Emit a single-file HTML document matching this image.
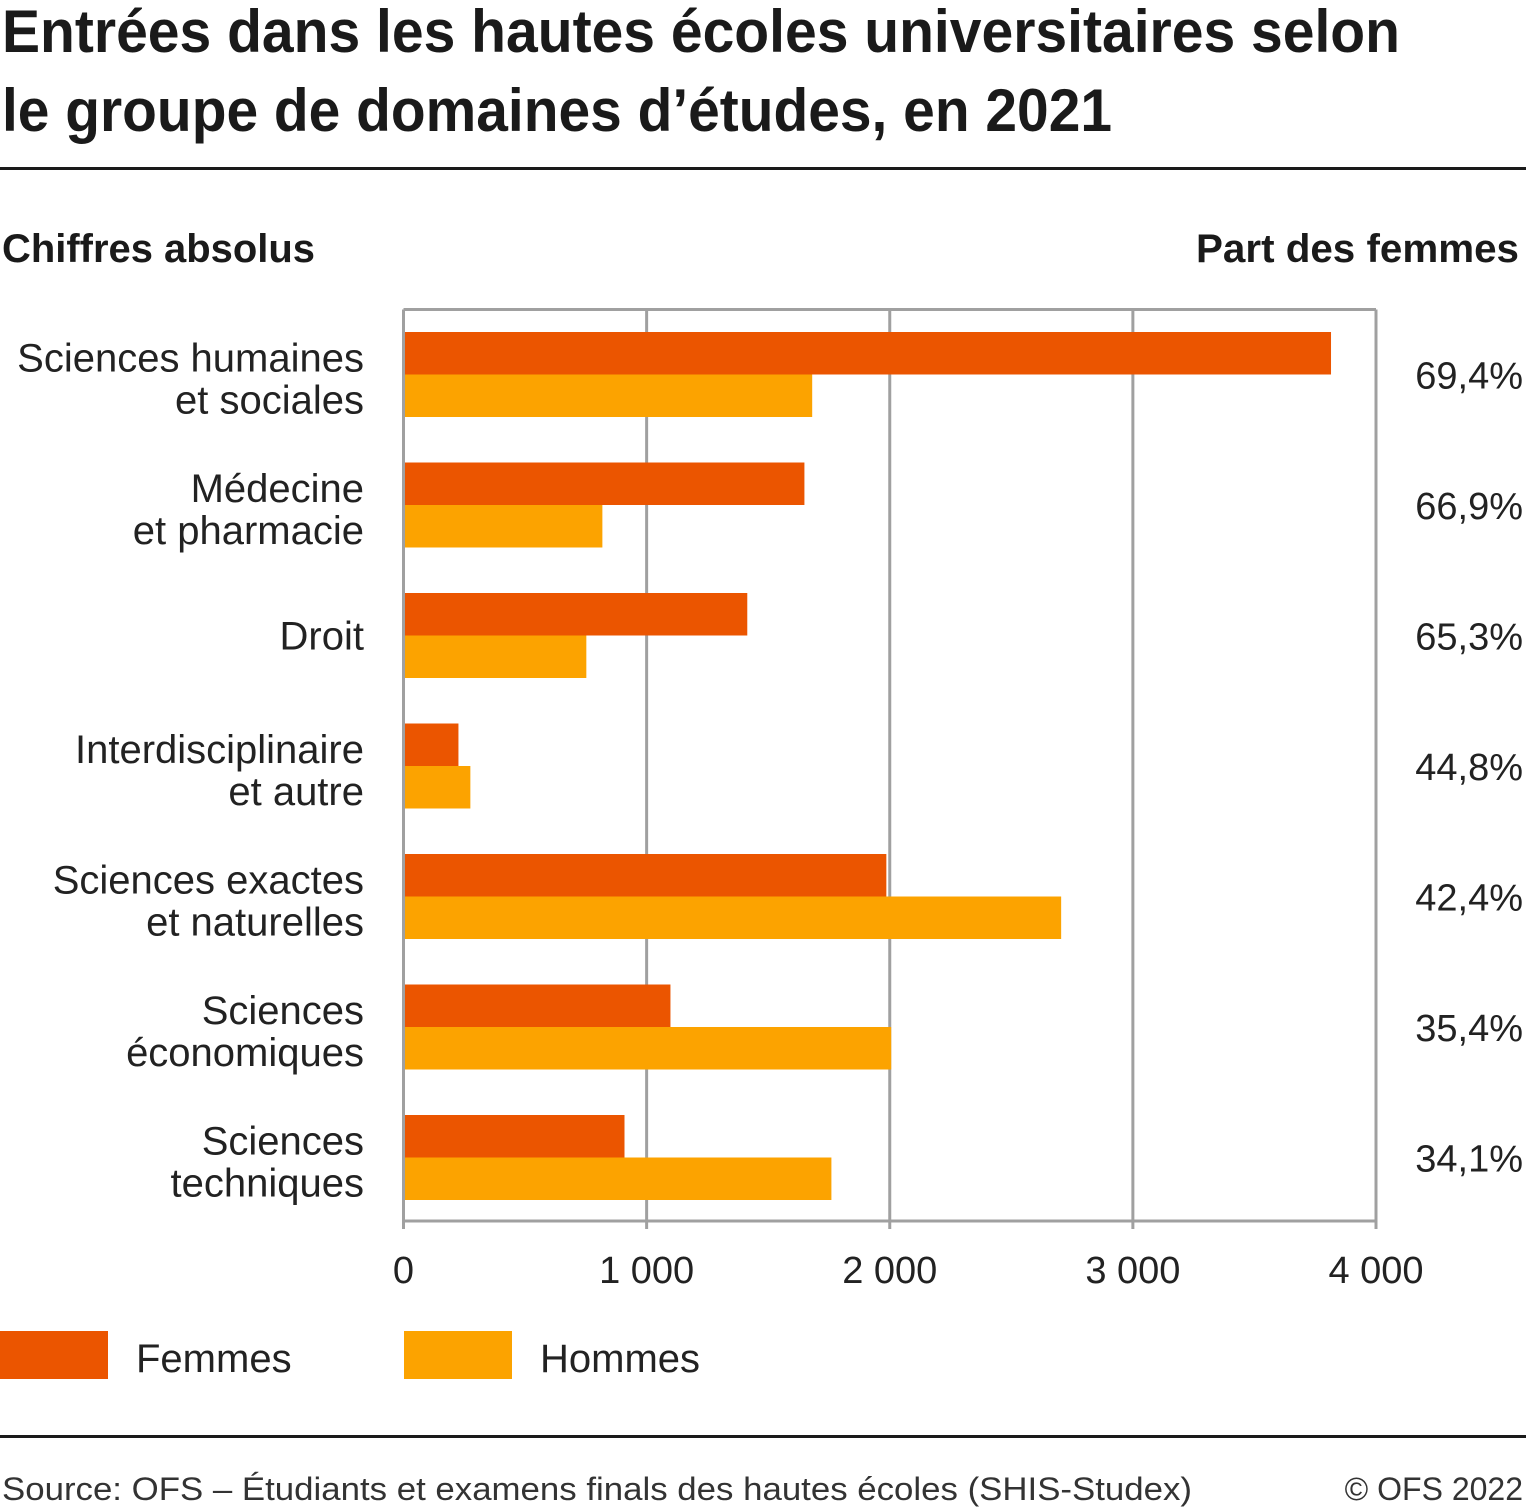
<!DOCTYPE html>
<html><head><meta charset="utf-8"><style>
html,body{margin:0;padding:0;background:#fff;}
svg{display:block;font-family:"Liberation Sans",sans-serif;}
</style></head><body>
<svg id="chart" width="1526" height="1509" viewBox="0 0 1526 1509">
<text x="2" y="52" font-size="60" font-weight="bold" fill="#1a1a1a" textLength="1398" lengthAdjust="spacingAndGlyphs">Entrées dans les hautes écoles universitaires selon</text>
<text x="2" y="131" font-size="60" font-weight="bold" fill="#1a1a1a" textLength="1110" lengthAdjust="spacingAndGlyphs">le groupe de domaines d’études, en 2021</text>
<rect x="0" y="167" width="1526" height="3" fill="#1a1a1a"/>
<text x="2" y="262" font-size="40" font-weight="bold" fill="#1a1a1a" textLength="313" lengthAdjust="spacingAndGlyphs">Chiffres absolus</text>
<text x="1519" y="262" font-size="40" font-weight="bold" fill="#1a1a1a" text-anchor="end" textLength="323" lengthAdjust="spacingAndGlyphs">Part des femmes</text>
<g id="grid"></g>
<g id="bars"></g>
<g id="labels"></g>
<rect x="0" y="1331" width="108" height="48" fill="#EB5500"/>
<text x="136" y="1372" font-size="40" fill="#222">Femmes</text>
<rect x="404" y="1331" width="108" height="48" fill="#FCA300"/>
<text x="540" y="1372" font-size="40" fill="#222">Hommes</text>
<rect x="0" y="1435" width="1526" height="3" fill="#1a1a1a"/>
<text x="2" y="1500" font-size="32" fill="#333" textLength="1190" lengthAdjust="spacingAndGlyphs">Source: OFS – Étudiants et examens finals des hautes écoles (SHIS-Studex)</text>
<text x="1523" y="1500" font-size="32" fill="#333" text-anchor="end">© OFS 2022</text>
</svg>
<script>
const categories=[["Sciences humaines","et sociales"],["Médecine","et pharmacie"],["Droit"],["Interdisciplinaire","et autre"],["Sciences exactes","et naturelles"],["Sciences","économiques"],["Sciences","techniques"]];
const femmes=[3815,1649,1414,226,1986,1098,909];
const hommes=[1681,818,752,275,2705,2006,1760];
const shares=["69,4%","66,9%","65,3%","44,8%","42,4%","35,4%","34,1%"];
const ticks=[0,1000,2000,3000,4000];
const tickLabels=["0","1 000","2 000","3 000","4 000"];
const NS="http://www.w3.org/2000/svg";
const x0=403.5,x1=1376,xMax=4000;
const X=v=>x0+(x1-x0)*v/xMax;
const plotTop=309.5,plotBottom=1221;
const bandStart=332,bandStep=130.5,barH=42.5;
const Y=i=>bandStart+i*bandStep;
function mk(tag,attrs,parent){const e=document.createElementNS(NS,tag);for(const k in attrs)e.setAttribute(k,attrs[k]);parent.appendChild(e);return e;}
const grid=document.getElementById('grid'),bars=document.getElementById('bars'),labels=document.getElementById('labels');
ticks.forEach((t,i)=>{
  const l=mk('line',{x1:X(t),x2:X(t),y1:plotTop,y2:plotBottom+8,stroke:'#A0A0A0','stroke-width':3},grid);
  
  
  const tx=mk('text',{x:X(t),y:1283,'font-size':38,fill:'#222','text-anchor':'middle'},labels);
  tx.textContent=tickLabels[i];
  
  
});
const fr=mk('line',{x1:x0,x2:x1,y1:plotTop,y2:plotTop,stroke:'#A0A0A0','stroke-width':3},grid);


const ax=mk('line',{x1:x0,x2:x1,y1:plotBottom,y2:plotBottom,stroke:'#A0A0A0','stroke-width':3},grid);


categories.forEach((c,i)=>{
  const y=Y(i);
  const bf=mk('rect',{x:X(0)+1.5,y:y,width:X(femmes[i])-X(0)-1.5,height:barH,fill:'#EB5500'},bars);
  
  
  const bh=mk('rect',{x:X(0)+1.5,y:y+barH,width:X(hommes[i])-X(0)-1.5,height:barH,fill:'#FCA300'},bars);
  
  
  const cy=y+barH;
  const lt=mk('text',{x:364,'font-size':40,fill:'#222','text-anchor':'end'},labels);
  
  
  if(c.length===2){
    mk('tspan',{x:364,y:cy-3},lt).textContent=c[0];
    mk('tspan',{x:364,y:cy+39},lt).textContent=c[1];
  }else{
    mk('tspan',{x:364,y:cy+14},lt).textContent=c[0];
  }
  const st=mk('text',{x:1523,y:cy+14,'font-size':38,fill:'#222','text-anchor':'end'},labels);
  st.textContent=shares[i];
  
  
});
</script>
</body></html>
